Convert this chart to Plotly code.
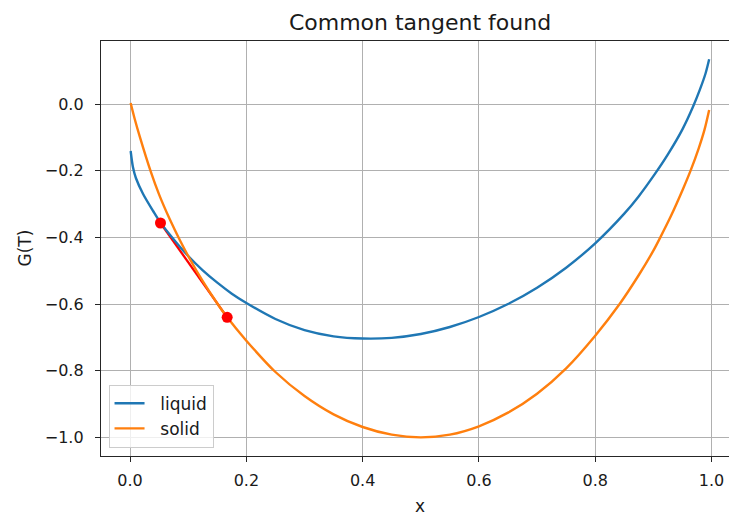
import plotly.graph_objects as go

# ---- data ----
liquid_x = [0.001, 0.005, 0.01, 0.0224, 0.0396, 0.0523, 0.0798, 0.1, 0.125, 0.15, 0.175,
            0.2, 0.25, 0.3, 0.35, 0.4, 0.45, 0.5, 0.55, 0.6, 0.65, 0.7, 0.75,
            0.8, 0.85, 0.875, 0.9, 0.925, 0.95, 0.968, 0.98, 0.99, 0.996]
liquid_g = [-0.141, -0.190, -0.222, -0.270, -0.321, -0.356, -0.416, -0.456, -0.499, -0.536,
            -0.569, -0.597, -0.645, -0.6785, -0.697, -0.7035, -0.7015, -0.690, -0.669, -0.639,
            -0.600, -0.551, -0.491, -0.418, -0.329, -0.2765, -0.2165, -0.151, -0.076,
            -0.009, 0.043, 0.093, 0.134]

solid_x = [0.001, 0.008, 0.0167, 0.0356, 0.05, 0.0683, 0.0855, 0.103, 0.125, 0.15, 0.167,
           0.2, 0.25, 0.3, 0.35, 0.4, 0.45, 0.5, 0.55, 0.6, 0.65, 0.7, 0.75, 0.8,
           0.842, 0.875, 0.9, 0.912, 0.93, 0.951, 0.964, 0.978, 0.988, 0.996]
solid_g = [0.003, -0.045, -0.098, -0.203, -0.272, -0.346, -0.408, -0.4657, -0.5315, -0.5985,
           -0.640, -0.710, -0.804, -0.876, -0.931, -0.969, -0.992, -1.000, -0.992, -0.967,
           -0.926, -0.869, -0.793, -0.695, -0.600, -0.513, -0.440, -0.400, -0.337, -0.255,
           -0.200, -0.133, -0.077, -0.018]

tangent_x = [0.0523, 0.167]
tangent_g = [-0.357, -0.640]

x_ticks = [0.0, 0.2, 0.4, 0.6, 0.8, 1.0]
x_tick_text = ["0.0", "0.2", "0.4", "0.6", "0.8", "1.0"]
y_ticks = [-1.0, -0.8, -0.6, -0.4, -0.2, 0.0]
y_tick_text = ["\u22121.0", "\u22120.8", "\u22120.6", "\u22120.4", "\u22120.2", "0.0"]

FONT = "DejaVu Sans"
W, H = 729, 515
L, T, B = 101, 41, 59
NB = "\u00a0\u00a0"

fig = go.Figure()
fig.add_trace(go.Scatter(x=tangent_x, y=tangent_g, mode="lines",
                         line=dict(color="#ff0000", width=2.3), showlegend=False))
fig.add_trace(go.Scatter(x=liquid_x, y=liquid_g, mode="lines", name=NB + "liquid",
                         line=dict(color="#1f77b4", width=2.4, shape="spline", smoothing=0.8)))
fig.add_trace(go.Scatter(x=solid_x, y=solid_g, mode="lines", name=NB + "solid",
                         line=dict(color="#ff7f0e", width=2.4, shape="spline", smoothing=0.8)))
fig.add_trace(go.Scatter(x=tangent_x, y=tangent_g, mode="markers",
                         marker=dict(color="#ff0000", size=11), showlegend=False))

axis_common = dict(showgrid=True, gridcolor="#b0b0b0", gridwidth=1.2,
                   zeroline=False, showline=True, linecolor="#262626", linewidth=1.3,
                   ticks="outside", ticklen=5, tickwidth=1.2, tickcolor="#262626",
                   tickfont=dict(family=FONT, size=16, color="#1a1a1a"))

fig.update_xaxes(range=[-0.05, 1.0301], tickvals=x_ticks, ticktext=x_tick_text,
                 mirror=True, ticklabelstandoff=5, **axis_common)
fig.update_yaxes(range=[-1.056, 0.189], tickvals=y_ticks, ticktext=y_tick_text,
                 mirror=False, ticklabelstandoff=8, **axis_common)

fig.update_layout(
    width=W, height=H,
    margin=dict(l=L, r=0, t=T, b=B, pad=0),
    plot_bgcolor="white", paper_bgcolor="white",
    font=dict(family=FONT, color="#1a1a1a"),
    title=dict(text="Common tangent found", font=dict(family=FONT, size=22, color="#1a1a1a"),
               x=420 / W, xref="container", xanchor="center",
               y=1 - 22 / H, yref="container", yanchor="middle"),
    legend=dict(x=0.012, y=0.02, xanchor="left", yanchor="bottom",
                bgcolor="rgba(255,255,255,0.8)", bordercolor="#cccccc", borderwidth=1,
                font=dict(family=FONT, size=17, color="#1a1a1a")),
    annotations=[
        dict(text="x", xref="paper", yref="paper", x=(420 - L) / (W - L), y=(456 - 506) / (456 - 41),
             xanchor="center", yanchor="middle", showarrow=False,
             font=dict(family=FONT, size=17, color="#1a1a1a")),
        dict(text="G(T)", xref="paper", yref="paper", x=(24 - L) / (W - L), y=0.5,
             xanchor="center", yanchor="middle", textangle=-90, showarrow=False,
             font=dict(family=FONT, size=17, color="#1a1a1a")),
    ],
)

fig.write_html("out.html")
